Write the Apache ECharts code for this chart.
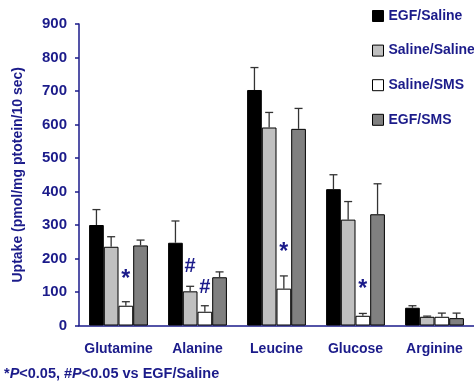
<!DOCTYPE html>
<html><head><meta charset="utf-8">
<script src="https://cdn.jsdelivr.net/npm/echarts@6/dist/echarts.min.js"></script>
<style>html,body{margin:0;padding:0;background:#fff}#c{width:474px;height:383px}</style>
</head><body><div id="c"></div>
<script>
var categories = ['Glutamine', 'Alanine', 'Leucine', 'Glucose', 'Arginine'];
var seriesNames = ['EGF/Saline', 'Saline/Saline', 'Saline/SMS', 'EGF/SMS'];
var egfSaline = [300, 247, 703, 407, 53];
var salineSaline = [235, 102, 591, 316, 26];
var salineSMS = [59, 41, 110, 29, 26];
var egfSMS = [239, 144, 587, 332, 22];
var errEgfSaline = [46, 65, 67, 43, 6];
var errSalineSaline = [30, 15, 45, 54, 2];
var errSalineSMS = [12, 18, 38, 7, 11];
var errEgfSMS = [16, 16, 61, 91, 15];
var yTicks = [0, 100, 200, 300, 400, 500, 600, 700, 800, 900];
// significance marks: [categoryIndex, groupIndex, yValue, symbol]
var marks = [[0, 2, 136, '*'], [1, 1, 175, '#'], [1, 2, 112, '#'], [2, 2, 217, '*'], [3, 2, 107, '*']];

var navy = '#1b1b8a';
var colors = ['#000000', '#c0c0c0', '#ffffff', '#808080'];
var values = [egfSaline, salineSaline, salineSMS, egfSMS];
var errs = [errEgfSaline, errSalineSaline, errSalineSMS, errEgfSMS];
var BW = 14.7;
var font = 'Liberation Sans, Arial, sans-serif';

var series = [];
values.forEach(function (v, k) {
  series.push({
    name: seriesNames[k], type: 'bar', data: v, barWidth: BW, barGap: '0%',
    itemStyle: { color: colors[k], borderColor: '#000', borderWidth: 1 },
    z: 2
  });
});
values.forEach(function (v, k) {
  series.push({
    type: 'custom', silent: true, z: 3,
    data: v.map(function (m, i) { return [i, m, errs[k][i], k]; }),
    renderItem: function (params, api) {
      var c = api.coord([api.value(0), api.value(1)]);
      var t = api.coord([api.value(0), api.value(1) + api.value(2)]);
      var x = c[0] + (api.value(3) - 1.5) * BW;
      var s = { stroke: '#333', lineWidth: 1.3 };
      return { type: 'group', children: [
        { type: 'line', shape: { x1: x, y1: c[1], x2: x, y2: t[1] }, style: s },
        { type: 'line', shape: { x1: x - 4, y1: t[1], x2: x + 4, y2: t[1] }, style: s }
      ]};
    }
  });
});
series.push({
  type: 'custom', silent: true, z: 4,
  data: marks,
  renderItem: function (params, api) {
    var c = api.coord([api.value(0), api.value(2)]);
    var x = c[0] + (api.value(1) - 1.5) * BW;
    var sym = marks[params.dataIndex][3];
    return { type: 'text', x: x, y: c[1], style: {
      text: sym, fill: navy, font: 'bold ' + (sym === '*' ? 23 : 20) + 'px ' + font,
      align: 'center', verticalAlign: 'middle' } };
  }
});

var chart = echarts.init(document.getElementById('c'));
chart.setOption({
  animation: false,
  grid: { left: 79, top: 24, height: 301.5, width: 397 },
  legend: {
    orient: 'vertical', left: 367, top: 4, itemWidth: 11, itemHeight: 11, itemGap: 20.6,
    data: seriesNames.map(function (n) { return { name: n, icon: 'rect' }; }),
    itemStyle: { borderColor: '#000', borderWidth: 1 },
    textStyle: { color: navy, fontWeight: 'bold', fontSize: 14, fontFamily: font }
  },
  xAxis: {
    type: 'category', data: categories,
    axisLine: { lineStyle: { color: navy, width: 1.5 } },
    axisTick: { show: false },
    axisLabel: { color: navy, fontWeight: 'bold', fontSize: 14, fontFamily: font, margin: 17, interval: 0 }
  },
  yAxis: {
    type: 'value', min: yTicks[0], max: yTicks[yTicks.length - 1], interval: 100,
    name: 'Uptake (pmol/mg ptotein/10 sec)', nameLocation: 'middle', nameGap: 54,
    nameTextStyle: { color: navy, fontWeight: 'bold', fontSize: 14, fontFamily: font },
    axisLine: { show: true, lineStyle: { color: navy, width: 1.5 } },
    axisTick: { show: true, length: 4, lineStyle: { color: navy, width: 1.5 } },
    splitLine: { show: false },
    axisLabel: { color: navy, fontWeight: 'bold', fontSize: 15, fontFamily: font, margin: 12 }
  },
  graphic: [{
    type: 'text', left: 4, top: 366,
    style: {
      text: '{n|*}{i|P}{n|<0.05, #}{i|P}{n|<0.05 vs EGF/Saline}',
      rich: {
        n: { fill: navy, font: 'bold 14.5px ' + font },
        i: { fill: navy, font: 'italic bold 14.5px ' + font }
      }
    }
  }],
  series: series
});
</script></body></html>
